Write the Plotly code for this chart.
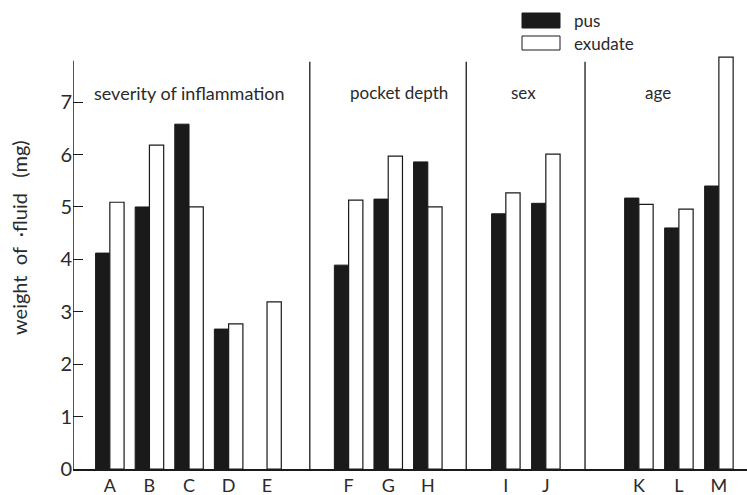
import plotly.graph_objects as go

# ---- data ----
categories = ["A", "B", "C", "D", "E", "F", "G", "H", "I", "J", "K", "L", "M"]
pus = [4.12, 5.00, 6.58, 2.67, None, 3.89, 5.15, 5.86, 4.87, 5.07, 5.17, 4.60, 5.40]
exudate = [5.09, 6.18, 5.00, 2.77, 3.19, 5.13, 5.97, 5.00, 5.27, 6.01, 5.05, 4.96, 7.86]
group_titles = ["severity of inflammation", "pocket depth", "sex", "age"]
series_names = ["pus", "exudate"]

# ---- layout helpers (positions on the category axis) ----
cat_pos = [0, 1, 2, 3, 3.97, 6.03, 7.03, 8.03, 10.0, 11.01, 13.36, 14.37, 15.38]
dividers = [5.05, 9.0, 12.0]
title_pos = [2.0, 7.3, 10.45, 13.85]
title_size = [18, 17, 17, 17]
bar_w = 0.36

W, H = 747, 495
L_M, R_M, T_M, B_M = 73, 0, 55, 26
XR = [-0.93, 16.09]
YR = [0, 7.9]
FONT = "Lato"
INK = "#1a1a1a"
TXT = "#2a2a2a"


def px_x(p):
    return (p - L_M) / (W - L_M - R_M)


def px_y(p):
    return (H - B_M - p) / (H - T_M - B_M)


fig = go.Figure()
fig.add_trace(go.Bar(
    x=cat_pos, y=pus, name=series_names[0], width=bar_w, offset=-bar_w,
    marker=dict(color=INK, line=dict(color=INK, width=1)),
))
fig.add_trace(go.Bar(
    x=cat_pos, y=exudate, name=series_names[1], width=bar_w, offset=0,
    marker=dict(color="white", line=dict(color=INK, width=1.2)),
))

shapes = []
# y axis line
shapes.append(dict(type="line", xref="x", yref="y", x0=XR[0], x1=XR[0], y0=0, y1=7.79,
                   line=dict(color=INK, width=1.5)))
# group dividers
for d in dividers:
    shapes.append(dict(type="line", xref="x", yref="y", x0=d, x1=d, y0=0, y1=7.77,
                       line=dict(color=INK, width=1.3)))
# legend swatches
shapes.append(dict(type="rect", xref="paper", yref="paper",
                   x0=px_x(522), x1=px_x(560), y0=px_y(28), y1=px_y(13),
                   fillcolor=INK, line=dict(color=INK, width=1)))
shapes.append(dict(type="rect", xref="paper", yref="paper",
                   x0=px_x(522), x1=px_x(560), y0=px_y(50), y1=px_y(36),
                   fillcolor="white", line=dict(color=INK, width=1)))

annotations = []
for t, p, s in zip(group_titles, title_pos, title_size):
    annotations.append(dict(text=t, x=p, y=px_y(93), xref="x", yref="paper",
                            showarrow=False, xanchor="center", yanchor="middle",
                            font=dict(family=FONT, size=s, color=TXT)))
annotations.append(dict(text=series_names[0], x=px_x(572), y=px_y(20), xref="paper", yref="paper",
                        showarrow=False, xanchor="left", yanchor="middle",
                        font=dict(family=FONT, size=17, color=TXT)))
annotations.append(dict(text=series_names[1], x=px_x(572), y=px_y(43), xref="paper", yref="paper",
                        showarrow=False, xanchor="left", yanchor="middle",
                        font=dict(family=FONT, size=17, color=TXT)))
annotations.append(dict(text="weight\u00a0 of\u00a0 ·fluid\u00a0\u00a0 (mg)", x=px_x(19), y=px_y(238),
                        xref="paper", yref="paper", textangle=-90,
                        showarrow=False, xanchor="center", yanchor="middle",
                        font=dict(family=FONT, size=20, color=TXT)))

fig.update_layout(
    width=W, height=H,
    margin=dict(l=L_M, r=R_M, t=T_M, b=B_M),
    paper_bgcolor="white", plot_bgcolor="white",
    showlegend=False,
    barmode="overlay",
    shapes=shapes,
    annotations=annotations,
    font=dict(family=FONT, color=TXT),
)
fig.update_xaxes(
    range=XR, tickmode="array", tickvals=cat_pos, ticktext=categories,
    showgrid=False, zeroline=False, showline=True, linecolor=INK, linewidth=1.5,
    ticks="", tickfont=dict(family=FONT, size=18, color=TXT),
)
fig.update_yaxes(
    range=YR, tickmode="array", tickvals=[0, 1, 2, 3, 4, 5, 6, 7],
    showgrid=False, zeroline=False, showline=False,
    ticks="inside", ticklen=10, tickcolor=INK, tickwidth=1,
    tickfont=dict(family=FONT, size=20, color=TXT),
)

fig.write_html("out.html")
